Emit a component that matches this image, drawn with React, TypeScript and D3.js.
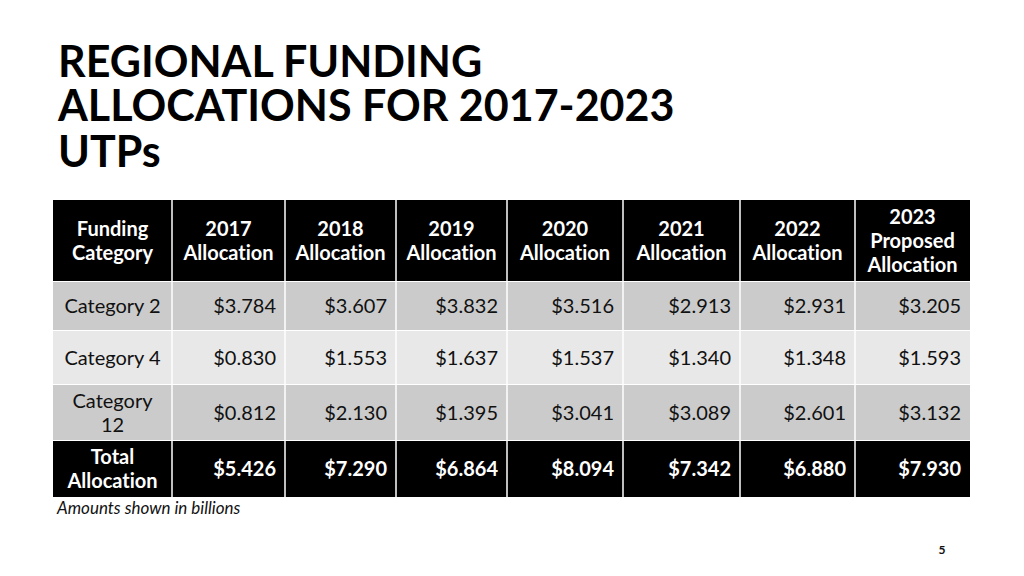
import React from "react";
import * as d3 from "d3";

const years = ["2017", "2018", "2019", "2020", "2021", "2022", "2023"];
const headerLabels = [
  ["2017", "Allocation"],
  ["2018", "Allocation"],
  ["2019", "Allocation"],
  ["2020", "Allocation"],
  ["2021", "Allocation"],
  ["2022", "Allocation"],
  ["2023", "Proposed", "Allocation"],
];
const categories = [["Category 2"], ["Category 4"], ["Category", "12"]];
const category2 = [3.784, 3.607, 3.832, 3.516, 2.913, 2.931, 3.205];
const category4 = [0.83, 1.553, 1.637, 1.537, 1.34, 1.348, 1.593];
const category12 = [0.812, 2.13, 1.395, 3.041, 3.089, 2.601, 3.132];
const totals = [5.426, 7.29, 6.864, 8.094, 7.342, 6.88, 7.93];

const FONT = "Lato, 'Open Sans', sans-serif";
// layout: relative column widths (first = label column)
const COL_W = [119, 113, 111, 111, 116, 117, 115, 115];

export default function App() {
  const W = 1024, H = 576;
  const left = 53, right = 970;
  const totalW = d3.sum(COL_W);
  const xs = d3.scaleLinear().domain([0, totalW]).range([left, right]);
  const cum = d3.cumsum(COL_W);
  const edges = [left, ...Array.from(cum, (c) => xs(c))];
  const colL = (i: number) => edges[i + 1];
  const colR = (i: number) => edges[i + 2];
  const fmt = (v: number) => "$" + d3.format(".3f")(v);

  const rowsY: [number, number][] = [
    [200, 281],
    [282, 330],
    [331, 384],
    [385, 440],
    [441, 497],
  ];
  const bodyRows = [category2, category4, category12];
  const fills = ["#000000", "#cbcbcb", "#e8e8e8", "#cbcbcb", "#000000"];
  const lineH = 24;
  const FS = 20;

  const cellText = (
    lines: string[],
    cx: number,
    cy: number,
    anchor: string,
    color: string,
    weight: number,
    key: string
  ) => {
    const n = lines.length;
    return (
      <text
        key={key}
        textAnchor={anchor}
        fill={color}
        fontWeight={weight}
        fontSize={FS}
        fontFamily={FONT}
        style={{ fontVariantLigatures: "none" }}
      >
        {lines.map((l, i) => (
          <tspan key={i} x={cx} y={cy + (i - (n - 1) / 2) * lineH} dy="0.35em">
            {l}
          </tspan>
        ))}
      </text>
    );
  };

  return (
    <svg width={W} height={H} style={{ position: "absolute", left: 0, top: 0, background: "#fff" }}>
      <rect x={0} y={0} width={W} height={H} fill="#fff" />
      <text fontFamily={FONT} fontWeight={700} fontSize={43} fill="#000" style={{ fontVariantLigatures: "none" }}>
        <tspan x={58} y={77}>REGIONAL FUNDING</tspan>
        <tspan x={58} y={121}>ALLOCATIONS FOR 2017-2023</tspan>
        <tspan x={58} y={167}>UTPs</tspan>
      </text>

      {rowsY.map(([t, b], r) => (
        <rect key={"bg" + r} x={left} y={t} width={right - left} height={b - t} fill={fills[r]} />
      ))}
      {edges.slice(1, -1).map((cx, i) => (
        <line key={"v" + i} x1={cx} x2={cx} y1={200} y2={497} stroke="#fff" strokeWidth={1.5} />
      ))}

      {cellText(["Funding", "Category"], (edges[0] + edges[1]) / 2, (rowsY[0][0] + rowsY[0][1]) / 2, "middle", "#fff", 700, "h0")}
      {years.map((y, i) =>
        cellText(headerLabels[i], (colL(i) + colR(i)) / 2, (rowsY[0][0] + rowsY[0][1]) / 2, "middle", "#fff", 700, "h" + y)
      )}

      {bodyRows.map((vals, r) => {
        const [t, b] = rowsY[r + 1];
        const cy = (t + b) / 2;
        return (
          <g key={"r" + r}>
            {cellText(categories[r], (edges[0] + edges[1]) / 2, cy, "middle", "#111", 400, "c" + r)}
            {vals.map((v, i) => cellText([fmt(v)], colR(i) - 9, cy, "end", "#111", 400, "v" + r + i))}
          </g>
        );
      })}

      {(() => {
        const [t, b] = rowsY[4];
        const cy = (t + b) / 2;
        return (
          <g>
            {cellText(["Total", "Allocation"], (edges[0] + edges[1]) / 2, cy, "middle", "#fff", 700, "tl")}
            {totals.map((v, i) => cellText([fmt(v)], colR(i) - 9, cy, "end", "#fff", 700, "t" + i))}
          </g>
        );
      })()}

      <text x={57} y={514} fontFamily={FONT} fontStyle="italic" fontSize={17} fill="#111">
        Amounts shown in billions
      </text>
      <text x={942} y={554} textAnchor="middle" fontFamily={FONT} fontWeight={700} fontSize={12} fill="#111">
        5
      </text>
    </svg>
  );
}
